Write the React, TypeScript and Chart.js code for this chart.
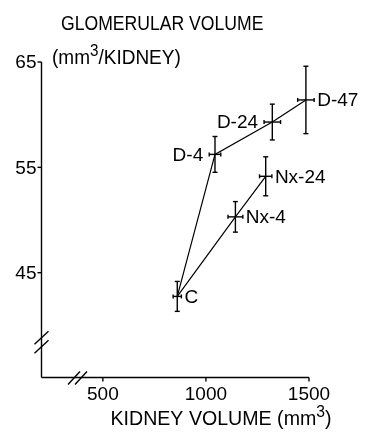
import React, { useEffect, useRef } from "react";
import { Chart, registerables } from "chart.js";

Chart.register(...registerables);

// ---- data ----
const groups = ["C", "D-4", "D-24", "D-47", "Nx-4", "Nx-24"];
const kidneyVolume = [861, 1044, 1322, 1485, 1143, 1290];
const kidneyVolumeErr = [20, 28, 40, 40, 36, 30];
const glomerularVolume = [42.75, 56.23, 59.3, 61.4, 50.3, 54.15];
const glomerularVolumeErr = [1.42, 1.7, 1.7, 3.2, 1.45, 1.85];
const donorLine = [0, 1, 2, 3];
const nxLine = [0, 4, 5];
const labelSide = ["right", "left", "left", "right", "right", "right"];
const xTicks = [500, 1000, 1500];
const yTicks = [45, 55, 65];
const xBreakAt = 377;
const yBreakAt = 38.4;

const FONT = '"Liberation Sans", Arial, sans-serif';

export default function App() {
  const ref = useRef<HTMLCanvasElement>(null);
  useEffect(() => {
    document.body.style.margin = "0";
    const canvas = ref.current!;
    const pts = (idx: number[]) => idx.map((i) => ({ x: kidneyVolume[i], y: glomerularVolume[i] }));

    const decor = {
      id: "decor",
      afterDatasetsDraw(chart: any) {
        const ctx = chart.ctx as CanvasRenderingContext2D;
        const xs = chart.scales.x;
        const ys = chart.scales.y;
        const ca = chart.chartArea;
        ctx.save();
        ctx.strokeStyle = "#000";
        ctx.fillStyle = "#000";
        ctx.lineWidth = 1.4;
        ctx.lineCap = "butt";
        const line = (x1: number, y1: number, x2: number, y2: number) => {
          ctx.beginPath();
          ctx.moveTo(x1, y1);
          ctx.lineTo(x2, y2);
          ctx.stroke();
        };
        // axes
        const ax = Math.round(ca.left) + 0.5;
        const ay = Math.round(ca.bottom) + 0.5;
        line(ax, ca.top, ax, ay);
        line(ax, ay, ca.right, ay);
        // y ticks
        ctx.font = `19px ${FONT}`;
        ctx.textAlign = "right";
        ctx.textBaseline = "middle";
        yTicks.forEach((v) => {
          const py = ys.getPixelForValue(v);
          line(ax - 4, py, ax, py);
          ctx.fillText(String(v), ax - 5, py + 1);
        });
        // x ticks
        ctx.textAlign = "center";
        ctx.textBaseline = "top";
        xTicks.forEach((v) => {
          const px = xs.getPixelForValue(v);
          line(px, ay, px, ay + 4);
          ctx.fillText(String(v), px, ay + 8);
        });
        // breaks
        const by = ys.getPixelForValue(yBreakAt);
        [-4.5, 4.5].forEach((d) => line(ax - 7, by + d + 6.5, ax + 7, by + d - 6.5));
        const bx = xs.getPixelForValue(xBreakAt);
        [-3.5, 3.5].forEach((d) => line(bx + d - 6, ay + 7, bx + d + 6, ay - 6));
        // error bars
        ctx.lineWidth = 1.4;
        groups.forEach((_, i) => {
          const px = xs.getPixelForValue(kidneyVolume[i]);
          const py = ys.getPixelForValue(glomerularVolume[i]);
          const y1 = ys.getPixelForValue(glomerularVolume[i] + glomerularVolumeErr[i]);
          const y2 = ys.getPixelForValue(glomerularVolume[i] - glomerularVolumeErr[i]);
          const x1 = xs.getPixelForValue(kidneyVolume[i] - kidneyVolumeErr[i]);
          const x2 = xs.getPixelForValue(kidneyVolume[i] + kidneyVolumeErr[i]);
          line(px, y1, px, y2);
          line(px - 2.5, y1, px + 2.5, y1);
          line(px - 2.5, y2, px + 2.5, y2);
          line(x1, py, x2, py);
          line(x1, py - 2, x1, py + 2);
          line(x2, py - 2, x2, py + 2);
        });
        // point labels
        ctx.font = `19px ${FONT}`;
        ctx.textBaseline = "middle";
        groups.forEach((g, i) => {
          const px = xs.getPixelForValue(kidneyVolume[i]);
          const py = ys.getPixelForValue(glomerularVolume[i]);
          const errPx = xs.getPixelForValue(kidneyVolume[i] + kidneyVolumeErr[i]) - px;
          if (labelSide[i] === "left") {
            ctx.textAlign = "right";
            ctx.fillText(g, px - errPx - 6, py + 1);
          } else {
            ctx.textAlign = "left";
            ctx.fillText(g, px + errPx + 3, py + 1);
          }
        });
        // titles with superscript
        const drawParts = (
          parts: [string, boolean][],
          x: number,
          y: number,
          align: "left" | "center",
          sx: number,
          size: number
        ) => {
          const big = `${size}px ${FONT}`;
          const small = `${Math.round(size * 0.8)}px ${FONT}`;
          let w = 0;
          parts.forEach(([t, sup]) => {
            ctx.font = sup ? small : big;
            w += ctx.measureText(t).width;
          });
          w *= sx;
          const startX = align === "center" ? x - w / 2 : x;
          ctx.save();
          ctx.translate(startX, y);
          ctx.scale(sx, 1);
          ctx.textAlign = "left";
          ctx.textBaseline = "alphabetic";
          let cx = 0;
          parts.forEach(([t, sup]) => {
            ctx.font = sup ? small : big;
            ctx.fillText(t, cx, sup ? -8 : 0);
            cx += ctx.measureText(t).width;
          });
          ctx.restore();
        };
        drawParts([["GLOMERULAR VOLUME", false]], 61, 30, "left", 0.88, 20);
        drawParts([["(mm", false], ["3", true], ["/KIDNEY)", false]], 52, 64, "left", 0.95, 20);
        drawParts([["KIDNEY VOLUME (mm", false], ["3", true], [")", false]], 221, 425, "center", 0.98, 20);
        ctx.restore();
      },
    };

    const chart = new Chart(canvas, {
      type: "scatter",
      data: {
        datasets: [
          { label: "D", data: pts(donorLine), showLine: true, borderColor: "#000", borderWidth: 1.2, pointRadius: 0, fill: false },
          { label: "Nx", data: pts(nxLine), showLine: true, borderColor: "#000", borderWidth: 1.2, pointRadius: 0, fill: false },
        ],
      },
      options: {
        animation: false,
        responsive: false,
        devicePixelRatio: 1,
        layout: { padding: { left: 41, top: 62, right: 58, bottom: 56 } },
        plugins: { legend: { display: false }, tooltip: { enabled: false }, title: { display: false } },
        scales: {
          x: { type: "linear", min: 200, max: 1500, display: false },
          y: { type: "linear", min: 35.1, max: 65, display: false },
        },
      },
      plugins: [decor],
    });
    return () => chart.destroy();
  }, []);
  return (
    <div style={{ width: 367, height: 433, background: "#fff" }}>
      <canvas ref={ref} width={367} height={433} />
    </div>
  );
}
